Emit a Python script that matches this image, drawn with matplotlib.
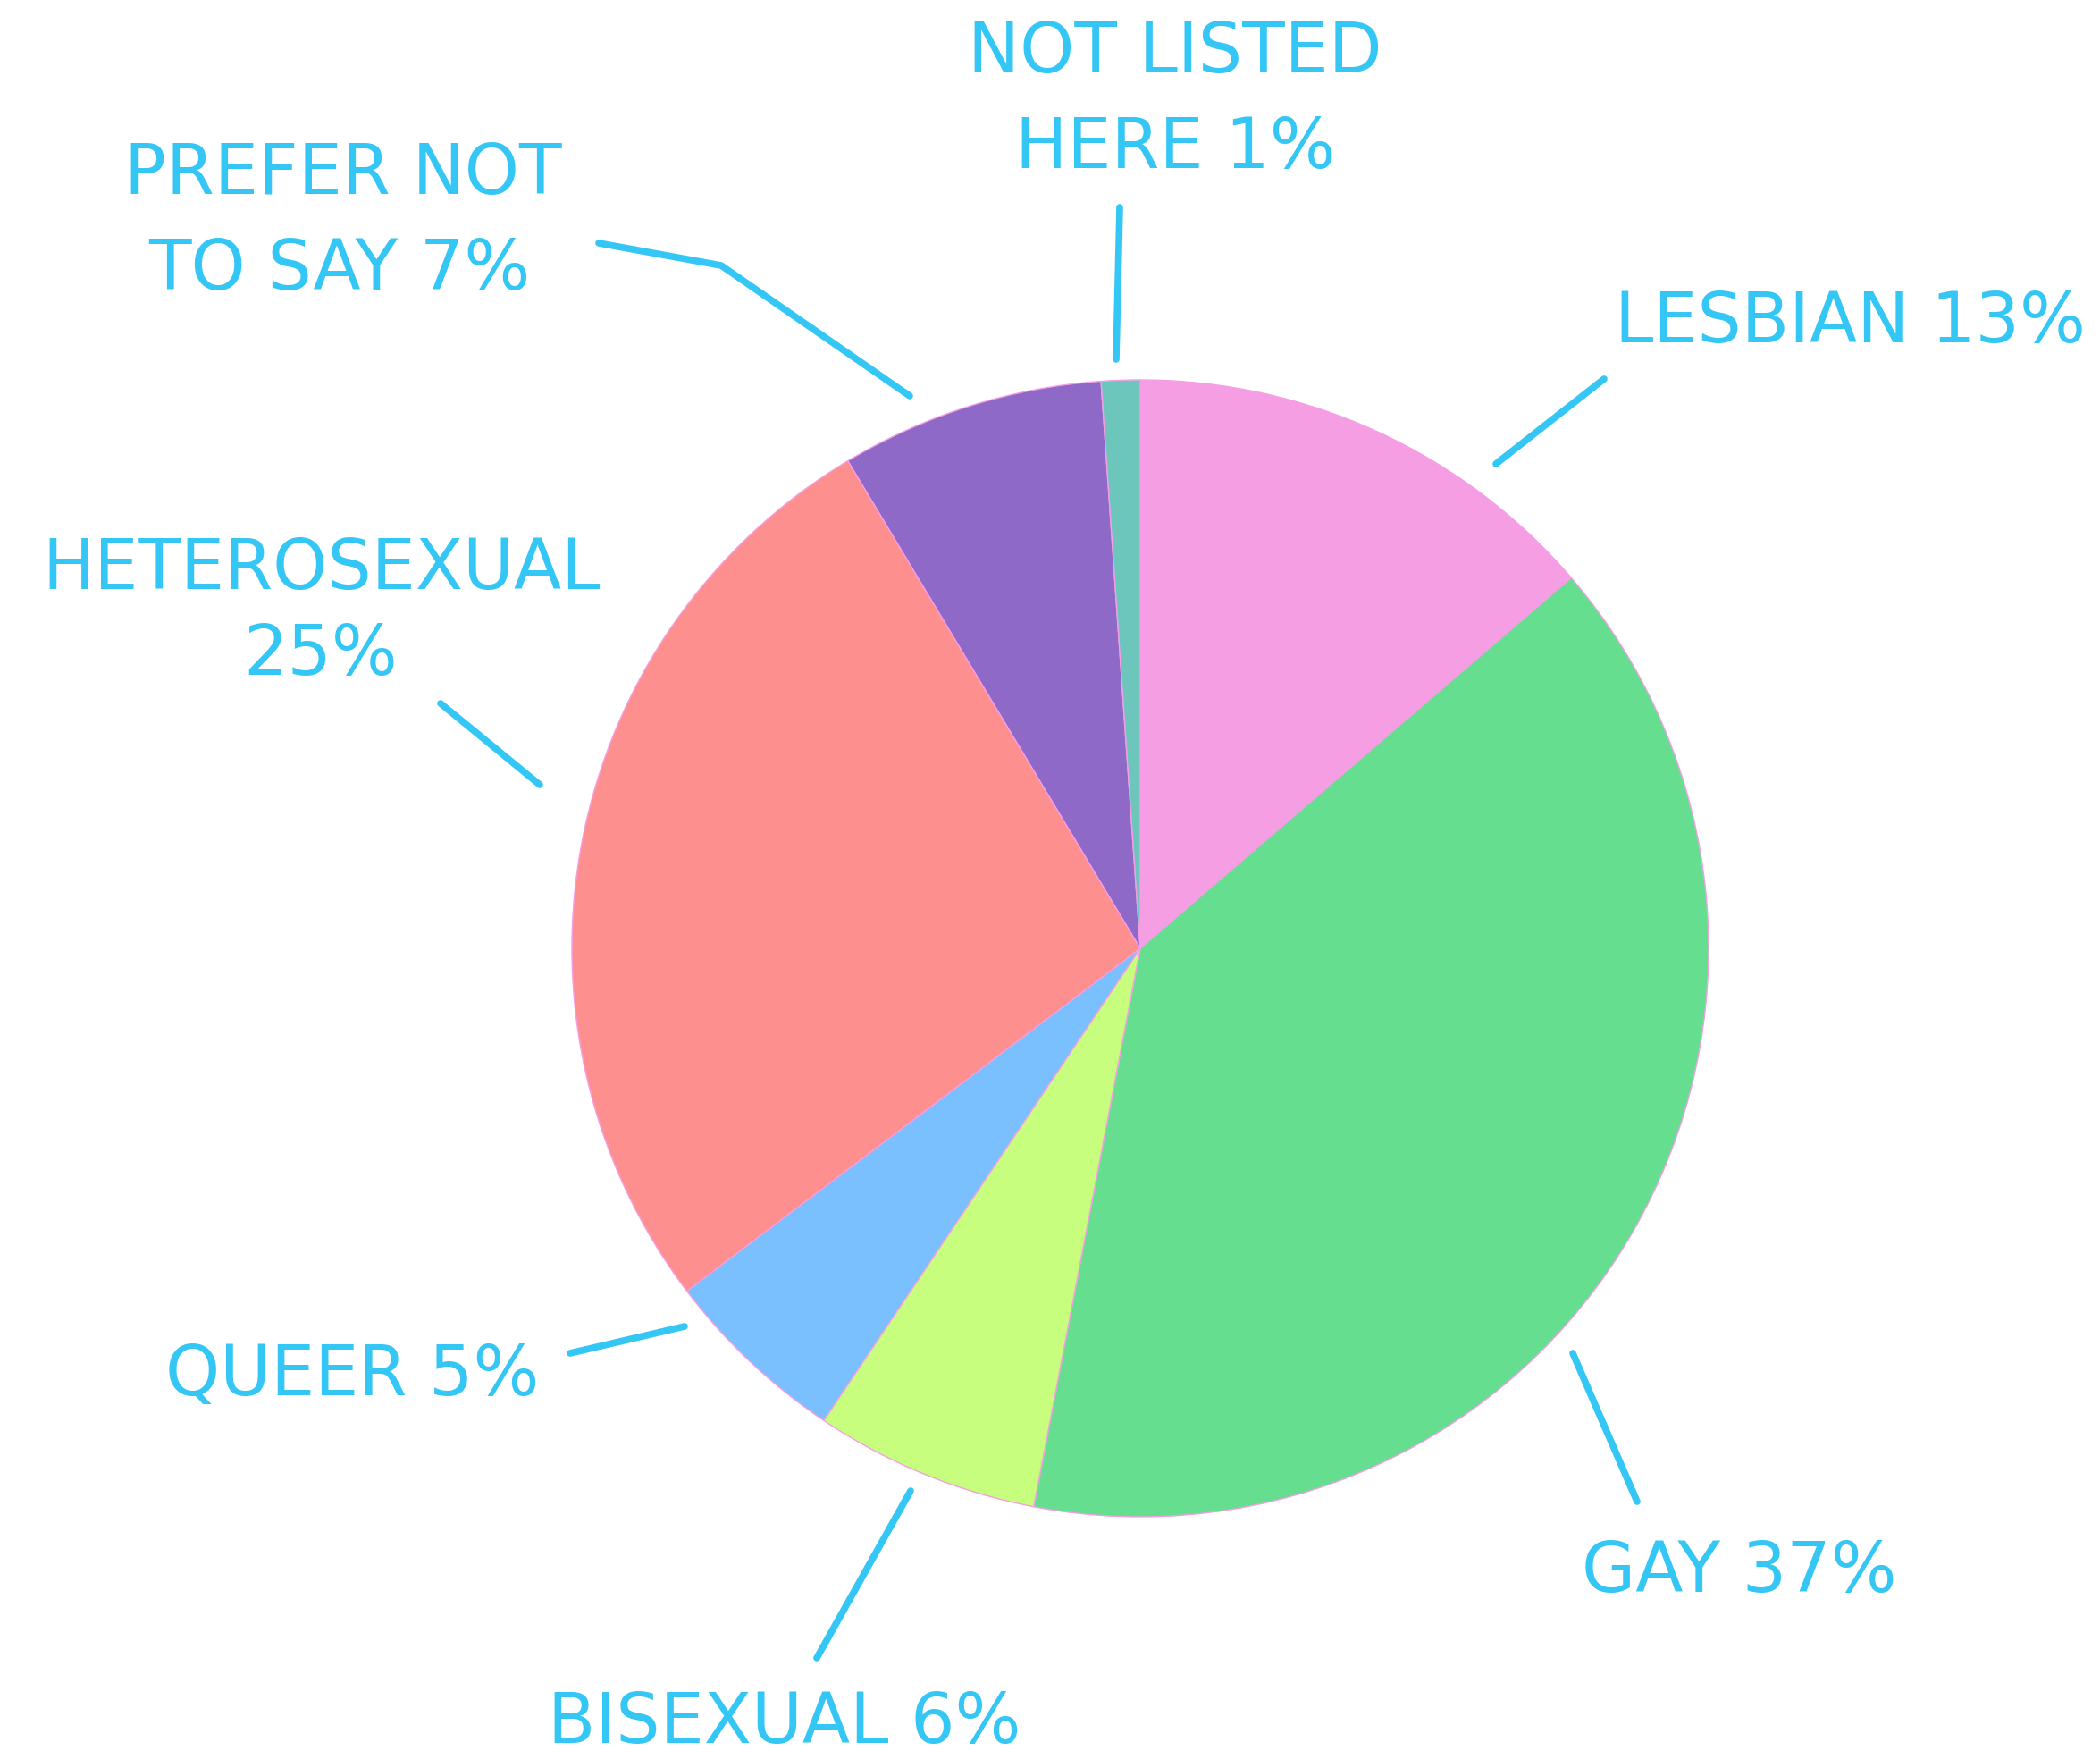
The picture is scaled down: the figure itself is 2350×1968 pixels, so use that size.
import matplotlib
matplotlib.use("Agg")
import matplotlib.pyplot as plt

# slice shares (clockwise from 12 o'clock)
categories = ["Lesbian", "Gay", "Bisexual", "Queer", "Heterosexual",
              "Prefer not to say", "Not listed here"]
shares = [13.7, 39.3, 6.4, 5.3, 26.7, 7.5, 1.1]
label_lines = [
    ["LESBIAN 13%"],
    ["GAY 37%"],
    ["BISEXUAL 6%"],
    ["QUEER 5%"],
    ["HETEROSEXUAL", "25%"],
    ["PREFER NOT", "TO SAY 7%"],
    ["NOT LISTED", "HERE 1%"],
]
colors = ["#F59EE4", "#66DE8F", "#C8FE7D", "#7ABFFE", "#FE8F8F",
          "#8F69C8", "#6CC6BC"]

# layout, in pixels of the 2350x1968 canvas (y measured from the top)
W, H = 2350, 1968
CENTER = (1276, 1061)
RADIUS = 636
TEXT_COLOR = "#34C6F4"
# (center x, baseline y) for each text line
label_pos = [
    [(2070, 383)],
    [(1946, 1781)],
    [(878, 1950)],
    [(394, 1561)],
    [(360, 659), (359, 755)],
    [(384, 217), (380, 324)],
    [(1315, 81), (1315, 188)],
]
leader_pts = [
    [(1674, 519), (1795, 424)],
    [(1760, 1514), (1832, 1680)],
    [(1019, 1668), (914, 1855)],
    [(766, 1484), (638, 1514)],
    [(604, 878), (493, 787)],
    [(1018, 443), (807, 297), (670, 272)],
    [(1249, 402), (1253, 232)],
]


def fy(y):
    return H - y


fig = plt.figure(figsize=(W / 100, H / 100), dpi=100)
ax = fig.add_axes([0, 0, 1, 1])

ax.pie(shares, colors=colors, startangle=90, counterclock=False,
       center=(CENTER[0], fy(CENTER[1])), radius=RADIUS,
       wedgeprops=dict(edgecolor="#F59EE4", linewidth=1.0))

for pts in leader_pts:
    xs = [p[0] for p in pts]
    ys = [fy(p[1]) for p in pts]
    ax.plot(xs, ys, color=TEXT_COLOR, linewidth=5.5,
            solid_capstyle="round", solid_joinstyle="round")

for lines, positions in zip(label_lines, label_pos):
    for line, (x, y) in zip(lines, positions):
        ax.text(x, fy(y), line, ha="center", va="baseline",
                fontsize=56, color=TEXT_COLOR, family="DejaVu Sans")

ax.set_xlim(0, W)
ax.set_ylim(0, H)
ax.set_aspect("equal")
ax.axis("off")

fig.savefig("out.png", dpi=100, facecolor="white")
